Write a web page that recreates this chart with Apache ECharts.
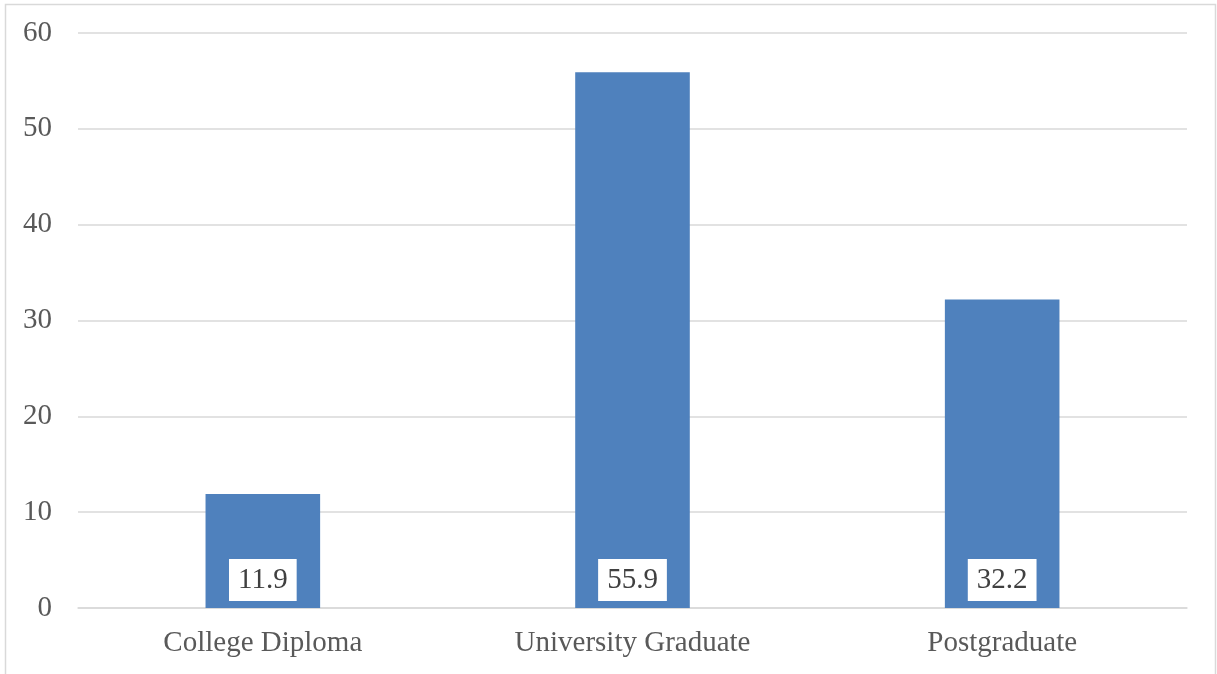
<!DOCTYPE html>
<html>
<head>
<meta charset="utf-8">
<script src="https://cdn.jsdelivr.net/npm/echarts@6/dist/echarts.min.js"></script>
<style>
  html, body { margin: 0; padding: 0; background: #fff; }
  #chart { width: 1217px; height: 674px; }
</style>
</head>
<body>
<div id="chart"></div>
<script>
// Share of respondents by education level (%)
const categories = ['College Diploma', 'University Graduate', 'Postgraduate'];
const values = [11.9, 55.9, 32.2];
const yTicks = [0, 10, 20, 30, 40, 50, 60];

const chart = echarts.init(document.getElementById('chart'));
const font = '"Liberation Serif", "Times New Roman", serif';

chart.setOption({
  animation: false,
  backgroundColor: '#ffffff',
  graphic: [{
    type: 'rect',
    shape: { x: 5.5, y: 4.5, width: 1210, height: 690 },
    style: { fill: 'none', stroke: '#d9d9d9', lineWidth: 1.5 },
    silent: true
  }],
  grid: { left: 78, right: 30, top: 33, bottom: 66 },
  xAxis: {
    type: 'category',
    data: categories,
    axisTick: { show: false },
    axisLine: { lineStyle: { color: '#d9d9d9', width: 1.5 } },
    axisLabel: { color: '#595959', fontFamily: font, fontSize: 29, margin: 21 }
  },
  yAxis: {
    type: 'value',
    min: yTicks[0],
    max: yTicks[yTicks.length - 1],
    interval: yTicks[1] - yTicks[0],
    axisLine: { show: false },
    axisTick: { show: false },
    splitLine: { lineStyle: { color: '#d9d9d9', width: 1.5 } },
    axisLabel: { color: '#595959', fontFamily: font, fontSize: 29, margin: 26 }
  },
  series: [{
    type: 'bar',
    data: values,
    barWidth: '31%',
    itemStyle: { color: '#4f81bd' },
    label: {
      show: true,
      position: 'insideBottom',
      distance: 7,
      formatter: (p) => p.value.toFixed(1),
      color: '#404040',
      fontFamily: font,
      fontSize: 29,
      lineHeight: 30,
      backgroundColor: '#ffffff',
      padding: [6, 9]
    }
  }]
});
</script>
</body>
</html>
